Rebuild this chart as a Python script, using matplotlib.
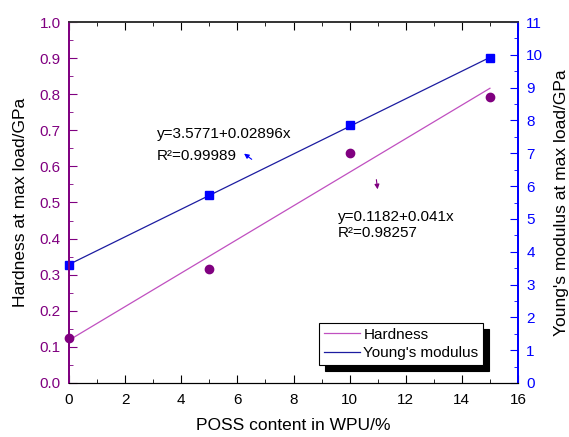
import numpy as np
import matplotlib.pyplot as plt
from matplotlib.ticker import MultipleLocator

plt.rcParams['font.family'] = ['Liberation Sans', 'DejaVu Sans']

# du lieu doc tu hinh
poss = [0, 5, 10, 15]
hardness = [0.125, 0.315, 0.637, 0.793]
modulus = [3.60, 5.72, 7.85, 9.90]

purple = '#800080'
blue = '#0000ff'

fig = plt.figure(figsize=(5.69, 4.37), dpi=100)
ax = fig.add_axes([69/569, 1-383/437, 449/569, 361/437])
ax2 = ax.twinx()

# duong hoi quy tuyen tinh
xf = np.array([0, 15])
kh = np.polyfit(poss, hardness, 1)
km = np.polyfit(poss, modulus, 1)
lh, = ax.plot(xf, np.polyval(kh, xf), color='#c050c0', lw=0.9, label='Hardness')
ax.plot(poss, hardness, 'o', color=purple, ms=6, clip_on=False)
lm, = ax2.plot(xf, np.polyval(km, xf), color='#1c1ca0', lw=0.9, label="Young's modulus")
ax2.plot(poss, modulus, 's', color=blue, ms=5.5, clip_on=False)

ax.set_xlim(0, 16)
ax.set_ylim(0, 1.0)
ax2.set_ylim(0, 11)
ax.xaxis.set_major_locator(MultipleLocator(2))
ax.xaxis.set_minor_locator(MultipleLocator(1))
ax.yaxis.set_major_locator(MultipleLocator(0.1))
ax.yaxis.set_minor_locator(MultipleLocator(0.05))
ax2.yaxis.set_major_locator(MultipleLocator(1))
ax2.yaxis.set_minor_locator(MultipleLocator(0.5))
ax.yaxis.set_major_formatter(plt.FormatStrFormatter('%.1f'))

ax.tick_params(axis='x', which='both', direction='in', top=True, labelsize=11, pad=7)
ax.tick_params(axis='x', which='major', length=6)
ax.tick_params(axis='x', which='minor', length=3)
ax.tick_params(axis='y', which='both', direction='in', colors=purple, labelsize=11, pad=6)
ax.tick_params(axis='y', which='major', length=6)
ax.tick_params(axis='y', which='minor', length=3)
ax2.tick_params(axis='y', which='both', direction='in', colors=blue, labelsize=11, pad=6)
ax2.tick_params(axis='y', which='major', length=6)
ax2.tick_params(axis='y', which='minor', length=3)

for a in (ax, ax2):
    a.spines['left'].set_color(purple)
    a.spines['right'].set_color(blue)
    a.spines['left'].set_linewidth(1.3)
    a.spines['right'].set_linewidth(1.3)
    a.spines['top'].set_color('#333333')
    a.spines['top'].set_linewidth(1.2)

ax.set_xlabel('POSS content in WPU/%', fontsize=12.5, labelpad=8)
ax.set_ylabel('Hardness at max load/GPa', fontsize=12.5, labelpad=8)
ax2.set_ylabel("Young's modulus at max load/GPa", fontsize=12.5, labelpad=8)

# chu thich phuong trinh
ax.text(3.14, 0.69, 'y=3.5771+0.02896x', fontsize=11, va='center')
ax.text(3.14, 0.629, 'R²=0.99989', fontsize=11, va='center')
ax.text(9.59, 0.46, 'y=0.1182+0.041x', fontsize=11, va='center')
ax.text(9.59, 0.415, 'R²=0.98257', fontsize=11, va='center')
ax.annotate('', xy=(6.16, 0.64), xytext=(6.59, 0.615),
            arrowprops=dict(arrowstyle='-|>', color=blue, lw=0.8, mutation_scale=7))
ax.annotate('', xy=(11.01, 0.529), xytext=(10.94, 0.571),
            arrowprops=dict(arrowstyle='-|>', color=purple, lw=0.8, mutation_scale=7))

leg = ax2.legend([lh, lm], ['Hardness', "Young's modulus"], loc='lower left',
                 bbox_to_anchor=(250/449, 18/361), fontsize=11, fancybox=False,
                 shadow={'color': 'black', 'alpha': 1, 'ox': 4, 'oy': -4}, framealpha=1,
                 edgecolor='black', handlelength=2.4, borderpad=0.3,
                 labelspacing=0.3, handletextpad=0.2, borderaxespad=0)
leg.get_frame().set_linewidth(0.8)

fig.savefig('out.png', dpi=100)
